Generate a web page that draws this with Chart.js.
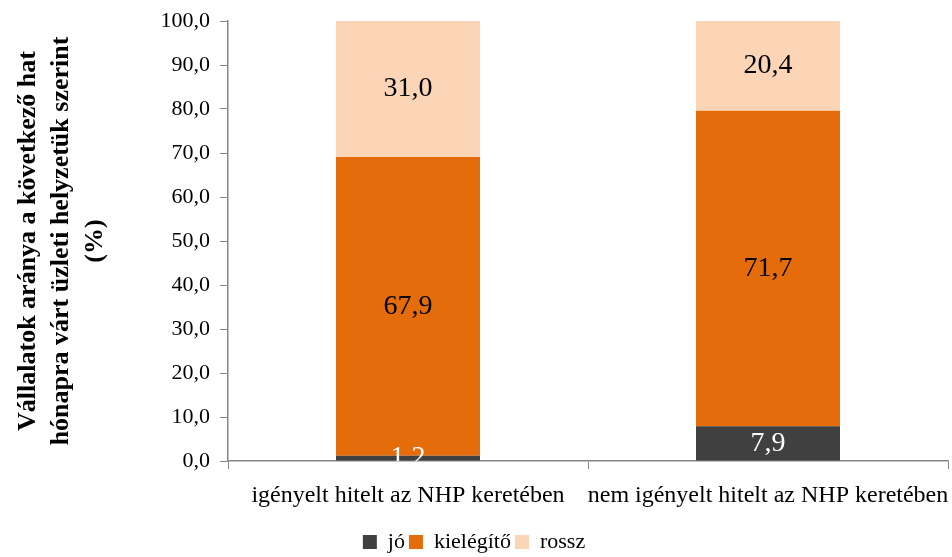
<!DOCTYPE html>
<html>
<head>
<meta charset="utf-8">
<script src="https://cdn.jsdelivr.net/npm/chart.js@4.4.1/dist/chart.umd.min.js"></script>
<style>
  html, body { margin: 0; padding: 0; background: #fff; }
  #wrap { width: 952px; height: 557px; }
</style>
</head>
<body>
<div id="wrap"><canvas id="nhpChart" width="952" height="557"></canvas></div>
<script>
const categories = ['igényelt hitelt az NHP keretében', 'nem igényelt hitelt az NHP keretében'];
const joValues = [1.2, 7.9];
const kielegitoValues = [67.9, 71.7];
const rosszValues = [31.0, 20.4];

const serif = "'Liberation Serif', 'DejaVu Serif', serif";
const axisGray = '#868686';

// value labels in the middle of each segment, clipped to the plot area
const segmentLabels = {
  id: 'segmentLabels',
  afterDatasetsDraw(chart) {
    const { ctx, chartArea } = chart;
    ctx.save();
    ctx.beginPath();
    ctx.rect(chartArea.left, chartArea.top, chartArea.right - chartArea.left, chartArea.bottom - chartArea.top);
    ctx.clip();
    ctx.font = '28px ' + serif;
    ctx.textAlign = 'center';
    ctx.textBaseline = 'middle';
    chart.data.datasets.forEach((ds, i) => {
      chart.getDatasetMeta(i).data.forEach((bar, j) => {
        const v = ds.data[j];
        ctx.fillStyle = ds.labelColor;
        ctx.fillText(v.toFixed(1).replace('.', ','), bar.x, (bar.y + bar.base) / 2);
      });
    });
    ctx.restore();
  }
};

new Chart(document.getElementById('nhpChart'), {
  type: 'bar',
  data: {
    labels: categories,
    datasets: [
      { label: 'jó', data: joValues, backgroundColor: '#404040', labelColor: '#ffffff' },
      { label: 'kielégítő', data: kielegitoValues, backgroundColor: '#E46C0A', labelColor: '#000000' },
      { label: 'rossz', data: rosszValues, backgroundColor: '#FBD5B5', labelColor: '#000000' }
    ]
  },
  options: {
    responsive: false,
    animation: false,
    layout: { padding: { top: 21, right: 4, bottom: -6, left: 0 } },
    datasets: { bar: { categoryPercentage: 0.4, barPercentage: 1 } },
    plugins: {
      legend: {
        position: 'bottom',
        labels: {
          font: { family: serif, size: 22 },
          color: '#000',
          boxWidth: 14,
          boxHeight: 14,
          padding: 4
        }
      },
      tooltip: { enabled: false }
    },
    scales: {
      x: {
        stacked: true,
        grid: { display: true, drawOnChartArea: false, offset: true, color: axisGray, tickLength: 8 },
        border: { color: axisGray, width: 1.5 },
        ticks: { font: { family: serif, size: 24 }, color: '#000', maxRotation: 0, autoSkip: false, padding: 12 },
        afterFit(scale) {
          scale.height = 66;
          scale.paddingLeft = 0;
          scale.paddingRight = 0;
        }
      },
      y: {
        stacked: true,
        min: 0,
        max: 100,
        ticks: {
          stepSize: 10,
          font: { family: serif, size: 22 },
          color: '#000',
          padding: 10,
          callback: v => v.toFixed(1).replace('.', ',')
        },
        grid: { display: true, drawOnChartArea: false, color: axisGray, tickLength: 8 },
        border: { color: axisGray, width: 1.5 },
        title: {
          display: true,
          text: ['Vállalatok aránya a következő hat', 'hónapra várt üzleti helyzetük szerint', '(%)'],
          font: { family: serif, size: 26, weight: 'bold', lineHeight: 1.3 },
          color: '#000',
          padding: { top: 11, bottom: 20 }
        },
        afterFit(scale) {
          scale.width = 228;
          scale.paddingTop = 0;
          scale.paddingBottom = 0;
        }
      }
    }
  },
  plugins: [segmentLabels]
});
</script>
</body>
</html>
